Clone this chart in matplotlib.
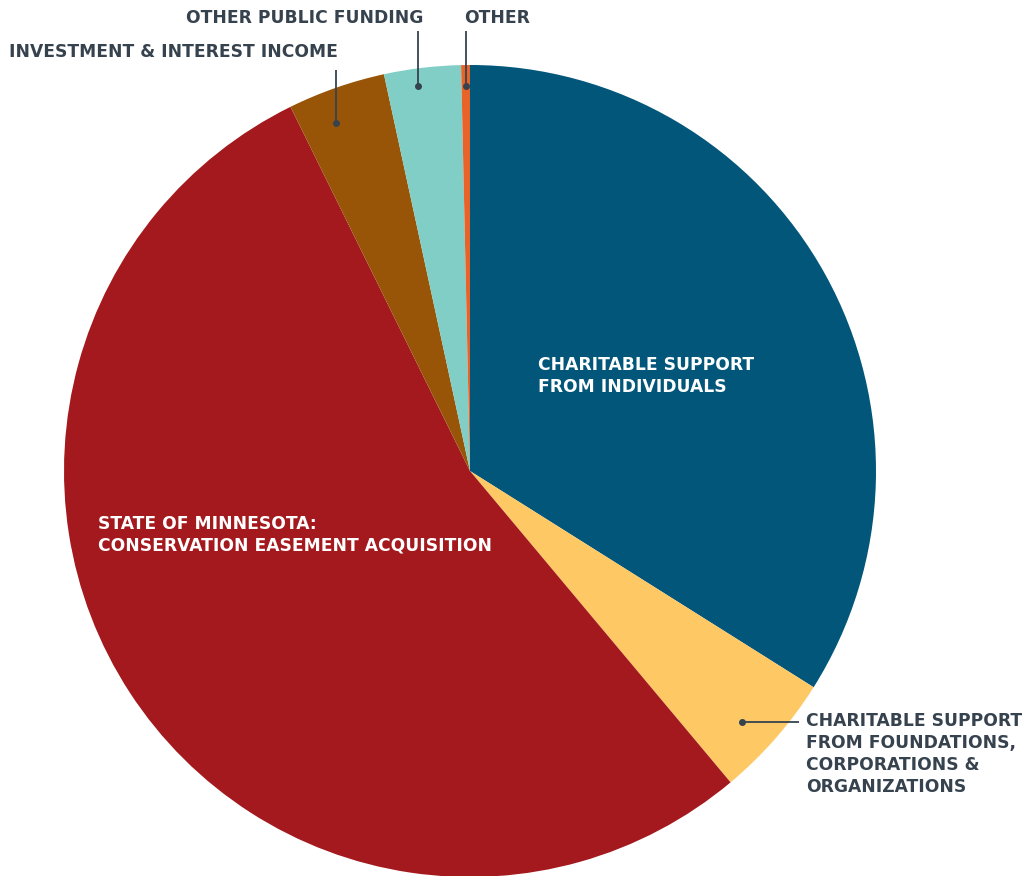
import matplotlib
matplotlib.use("Agg")
import matplotlib.pyplot as plt

categories = [
    "CHARITABLE SUPPORT\nFROM INDIVIDUALS",
    "CHARITABLE SUPPORT\nFROM FOUNDATIONS,\nCORPORATIONS &\nORGANIZATIONS",
    "STATE OF MINNESOTA:\nCONSERVATION EASEMENT ACQUISITION",
    "INVESTMENT & INTEREST INCOME",
    "OTHER PUBLIC FUNDING",
    "OTHER",
]
values = [33.94, 4.97, 53.80, 3.89, 3.05, 0.35]
colors = ["#02567A", "#FEC864", "#A3191E", "#985508", "#80CEC6", "#E8632A"]

W, H = 1026, 876
fig = plt.figure(figsize=(W / 100, H / 100), dpi=100)
ax = fig.add_axes([0, 0, 1, 1])


def Y(y):
    # convert pixel-from-top to data y
    return H - y


cx, cy, R = 470, 471, 406
ax.pie(values, colors=colors, startangle=90, counterclock=False,
       center=(cx, Y(cy)), radius=R, wedgeprops=dict(linewidth=0),
       frame=True)
ax.set_xlim(0, W)
ax.set_ylim(0, H)
ax.axis("off")

font = dict(family="DejaVu Sans", fontweight="bold", fontsize=12.3)
dark = "#36434F"

# inside labels
ax.text(538, Y(376), categories[0], color="white", ha="left", va="center",
        linespacing=1.25, **font)
ax.text(98, Y(535), categories[2], color="white", ha="left", va="center",
        linespacing=1.25, **font)


def callout(x0, y0, x1, y1):
    ax.plot([x0, x1], [Y(y0), Y(y1)], color=dark, lw=1.3, solid_capstyle="butt")
    ax.plot([x0], [Y(y0)], "o", color=dark, ms=4)


callout(742, 722, 799, 722)
ax.text(806, Y(754), categories[1], color=dark, ha="left", va="center",
        linespacing=1.27, **font)

callout(336, 123, 336, 70)
ax.text(338, Y(52), categories[3], color=dark, ha="right", va="center", **font)

callout(418, 86, 418, 31)
ax.text(423, Y(18), categories[4], color=dark, ha="right", va="center", **font)

callout(466, 86, 466, 31)
ax.text(464, Y(18), categories[5], color=dark, ha="left", va="center", **font)

fig.savefig("out.png", dpi=100)
